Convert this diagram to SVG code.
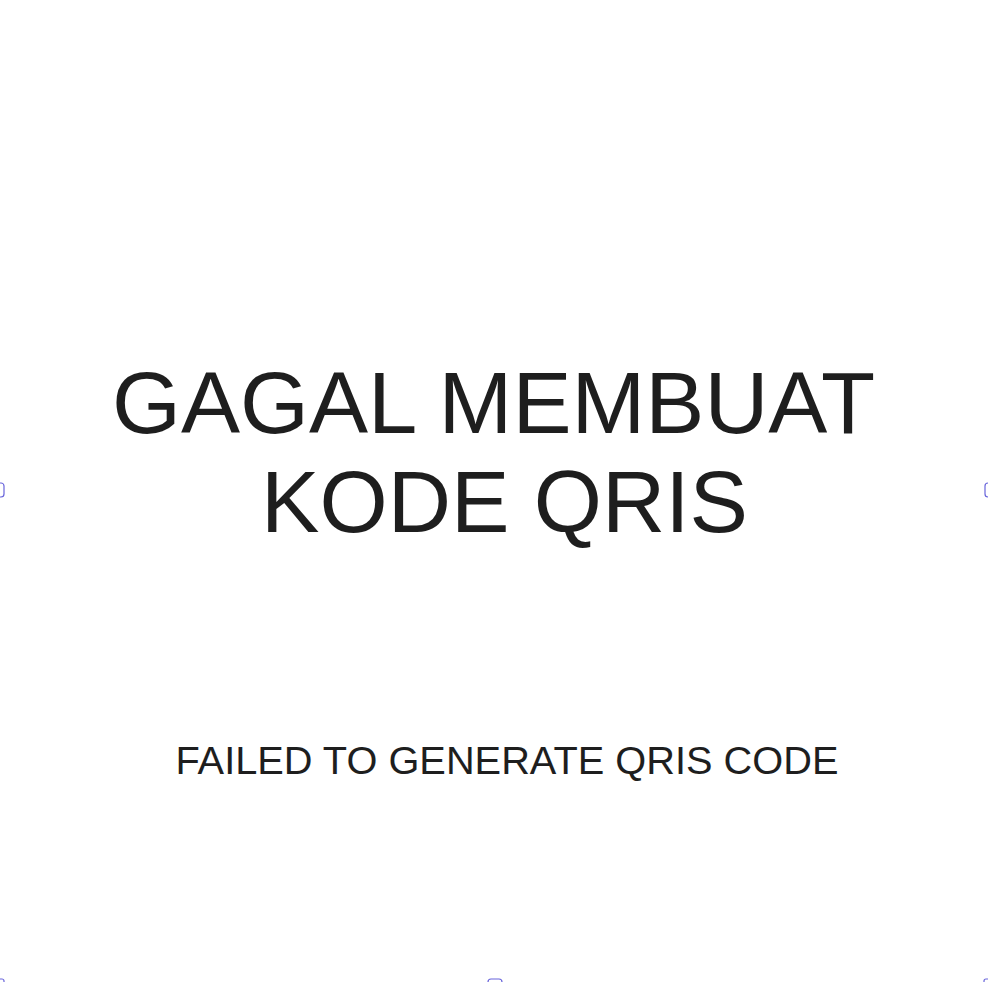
<svg xmlns="http://www.w3.org/2000/svg" width="988" height="982" viewBox="0 0 988 982">
<style>
.t{font-family:"Liberation Sans",Arial,Helvetica,sans-serif;fill:#1e1e1e}
.h{fill:#ffffff;stroke:#6965db;stroke-width:1.2}
</style>
<rect x="0" y="0" width="988" height="982" fill="#ffffff"/>
<g id="title">
<text class="t" x="112" y="433" font-size="87.5" textLength="763" lengthAdjust="spacingAndGlyphs">GAGAL MEMBUAT</text>
<text class="t" x="261" y="532" font-size="87.5" textLength="487" lengthAdjust="spacingAndGlyphs">KODE QRIS</text>
</g>
<g id="subtitle">
<text class="t" x="175.5" y="774" font-size="39" textLength="663" lengthAdjust="spacingAndGlyphs">FAILED TO GENERATE QRIS CODE</text>
</g>
<g id="handles">
<rect class="h" x="-4" y="483" width="8" height="14" rx="3"/>
<rect class="h" x="985" y="483" width="8" height="14" rx="3"/>
<rect class="h" x="488" y="979" width="14" height="8" rx="3"/>
<rect class="h" x="-4" y="979" width="8" height="8" rx="2"/>
<rect class="h" x="984" y="979" width="8" height="8" rx="2"/>
</g>
<g id="connectors"></g>
</svg>
